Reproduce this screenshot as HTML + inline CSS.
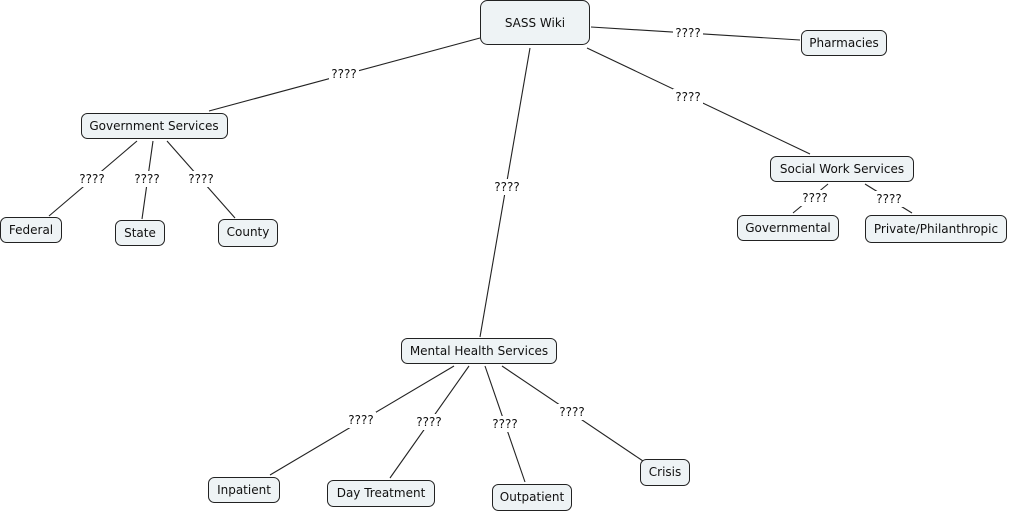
<!DOCTYPE html>
<html><head><meta charset="utf-8"><style>
html,body{margin:0;padding:0;background:#fff;width:1009px;height:514px;overflow:hidden}
svg text{font-family:"DejaVu Sans","Liberation Sans",sans-serif;font-size:12px;fill:#111}
.n{fill:#eef3f5;stroke:#222;stroke-width:1}
.l{stroke:#222;stroke-width:1.1}
.lb{fill:#fff}
</style></head><body>
<svg width="1009" height="514" xmlns="http://www.w3.org/2000/svg">
<g class="l">
<line x1="480" y1="38" x2="209" y2="111"/>
<line x1="591" y1="27" x2="800" y2="40"/>
<line x1="587" y1="48" x2="810" y2="154"/>
<line x1="530" y1="48" x2="480" y2="337"/>
<line x1="137" y1="141" x2="49" y2="216"/>
<line x1="153" y1="141" x2="142" y2="219"/>
<line x1="167" y1="141" x2="235" y2="218"/>
<line x1="828" y1="184" x2="793" y2="213"/>
<line x1="865" y1="184" x2="912" y2="213"/>
<line x1="454" y1="366" x2="270" y2="475"/>
<line x1="469" y1="366" x2="390" y2="478"/>
<line x1="485" y1="366" x2="525" y2="482"/>
<line x1="502" y1="366" x2="643" y2="461"/>
</g>
<g class="lb">
<rect x="329" y="66" width="30" height="16"/>
<rect x="673" y="25" width="30" height="16"/>
<rect x="673" y="89" width="30" height="16"/>
<rect x="492" y="179" width="30" height="16"/>
<rect x="77" y="171" width="30" height="16"/>
<rect x="132" y="171" width="30" height="16"/>
<rect x="186" y="171" width="30" height="16"/>
<rect x="800" y="190" width="30" height="16"/>
<rect x="874" y="191" width="30" height="16"/>
<rect x="346" y="412" width="30" height="16"/>
<rect x="414" y="414" width="30" height="16"/>
<rect x="490" y="416" width="30" height="16"/>
<rect x="557" y="404" width="30" height="16"/>
</g>
<g text-anchor="middle">
<text x="344" y="78">????</text>
<text x="688" y="37">????</text>
<text x="688" y="101">????</text>
<text x="507" y="191">????</text>
<text x="92" y="183">????</text>
<text x="147" y="183">????</text>
<text x="201" y="183">????</text>
<text x="815" y="202">????</text>
<text x="889" y="203">????</text>
<text x="361" y="424">????</text>
<text x="429" y="426">????</text>
<text x="505" y="428">????</text>
<text x="572" y="416">????</text>
</g>
<g>
<rect class="n" x="480.5" y="0.5" width="109" height="44" rx="7"/>
<rect class="n" x="801.5" y="30.5" width="85" height="25" rx="6"/>
<rect class="n" x="81.5" y="113.5" width="146" height="25" rx="6"/>
<rect class="n" x="0.5" y="217.5" width="61" height="25" rx="6"/>
<rect class="n" x="115.5" y="220.5" width="49" height="25" rx="6"/>
<rect class="n" x="218.5" y="219.5" width="59" height="27" rx="6"/>
<rect class="n" x="770.5" y="156.5" width="143" height="25" rx="6"/>
<rect class="n" x="737.5" y="215.5" width="101" height="25" rx="6"/>
<rect class="n" x="865.5" y="215.5" width="141" height="27" rx="6"/>
<rect class="n" x="401.5" y="338.5" width="155" height="25" rx="6"/>
<rect class="n" x="208.5" y="477.5" width="71" height="25" rx="6"/>
<rect class="n" x="327.5" y="480.5" width="107" height="26" rx="6"/>
<rect class="n" x="492.5" y="484.5" width="79" height="26" rx="6"/>
<rect class="n" x="640.5" y="459.5" width="49" height="26" rx="6"/>
</g>
<g text-anchor="middle">
<text x="535" y="27">SASS Wiki</text>
<text x="844" y="47">Pharmacies</text>
<text x="154" y="130">Government Services</text>
<text x="31" y="234">Federal</text>
<text x="140" y="237">State</text>
<text x="248" y="236">County</text>
<text x="842" y="173">Social Work Services</text>
<text x="788" y="232">Governmental</text>
<text x="936" y="233">Private/Philanthropic</text>
<text x="479" y="355">Mental Health Services</text>
<text x="244" y="494">Inpatient</text>
<text x="381" y="497">Day Treatment</text>
<text x="532" y="501">Outpatient</text>
<text x="665" y="476">Crisis</text>
</g>
</svg>
</body></html>
